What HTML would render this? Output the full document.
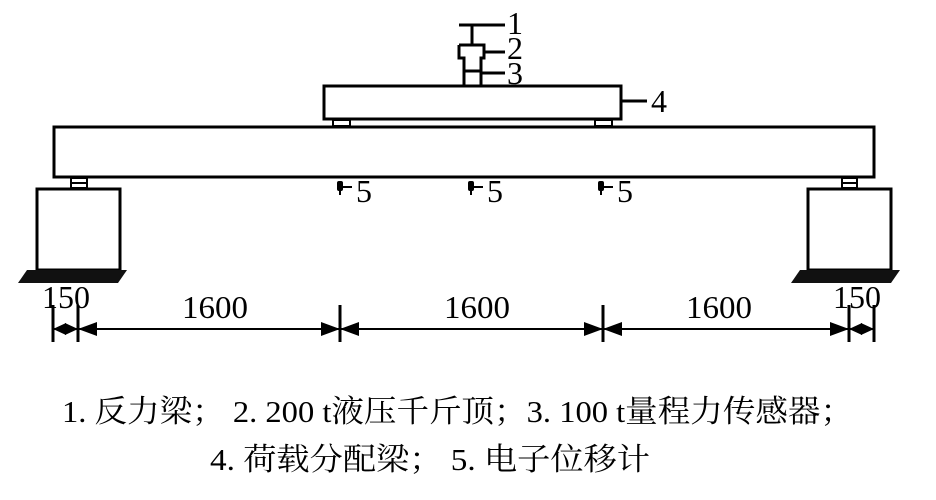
<!DOCTYPE html>
<html><head><meta charset="utf-8"><style>body{margin:0;background:#fff}svg{display:block}</style></head><body>
<svg width="936" height="500" viewBox="0 0 936 500" xmlns="http://www.w3.org/2000/svg">
<g fill="none" stroke="#000" stroke-width="3">
<rect x="54" y="127" width="820" height="50"/>
<rect x="324" y="86" width="297" height="33"/>
<rect x="37" y="189" width="83" height="81"/>
<rect x="808" y="189" width="83" height="81"/>
</g>
<g stroke="#000" stroke-width="2" fill="#fff">
<rect x="71" y="178" width="16" height="10"/>
<line x1="71" y1="183" x2="87" y2="183"/>
<rect x="842" y="178" width="15" height="10"/>
<line x1="842" y1="183" x2="857" y2="183"/>
<rect x="333" y="120" width="17" height="6"/>
<rect x="595" y="120" width="17" height="6"/>
</g>
<polygon points="27,270 127,270 118,283 18,283" fill="#111"/>
<polygon points="800,270 900,270 891,283 791,283" fill="#111"/>
<g stroke="#000" stroke-width="3" fill="none">
<line x1="459" y1="25" x2="505" y2="25"/>
<line x1="472" y1="25" x2="472" y2="44"/>
<path d="M459,45 H484 V58 H481 V86 M459,45 V58 H464 V86"/>
<line x1="464" y1="71" x2="481" y2="71"/>
<line x1="484" y1="52" x2="505" y2="52"/>
<line x1="481" y1="73" x2="505" y2="73"/>
<line x1="621" y1="101" x2="647" y2="101"/>
<line x1="340" y1="187" x2="352" y2="187" stroke-width="2"/>
<line x1="471" y1="187" x2="483" y2="187" stroke-width="2"/>
<line x1="601" y1="187" x2="613" y2="187" stroke-width="2"/>
</g>
<g fill="#000">
<rect x="337" y="181" width="6" height="10" rx="2"/><rect x="339" y="191" width="2" height="4"/>
<rect x="468" y="181" width="6" height="10" rx="2"/><rect x="470" y="191" width="2" height="4"/>
<rect x="598" y="181" width="6" height="10" rx="2"/><rect x="600" y="191" width="2" height="4"/>
</g>
<g stroke="#000" stroke-width="3">
<line x1="53" y1="305" x2="53" y2="342"/>
<line x1="78" y1="305" x2="78" y2="342"/>
<line x1="340" y1="305" x2="340" y2="342"/>
<line x1="603" y1="305" x2="603" y2="342"/>
<line x1="849" y1="305" x2="849" y2="342"/>
<line x1="874" y1="305" x2="874" y2="342"/>
<line x1="53" y1="329" x2="874" y2="329" stroke-width="2"/>
</g>
<g fill="#000">
<polygon points="53,329 66,323 66,335"/><polygon points="78,329 65,323 65,335"/>
<polygon points="78,329 97,322 97,336"/><polygon points="340,329 321,322 321,336"/>
<polygon points="340,329 359,322 359,336"/><polygon points="603,329 584,322 584,336"/>
<polygon points="603,329 622,322 622,336"/><polygon points="849,329 830,322 830,336"/>
<polygon points="849,329 862,323 862,335"/><polygon points="874,329 861,323 861,335"/>
</g>
<g font-family="Liberation Serif, serif" font-size="32" fill="#000">
<text x="507" y="34">1</text>
<text x="507" y="59">2</text>
<text x="507" y="84">3</text>
<text x="651" y="112">4</text>
<text x="356" y="202">5</text>
<text x="487" y="202">5</text>
<text x="617" y="202">5</text>
<text x="42" y="308" textLength="48" lengthAdjust="spacingAndGlyphs">150</text>
<text x="182" y="318" textLength="66" lengthAdjust="spacingAndGlyphs">1600</text>
<text x="444" y="318" textLength="66" lengthAdjust="spacingAndGlyphs">1600</text>
<text x="686" y="318" textLength="66" lengthAdjust="spacingAndGlyphs">1600</text>
<text x="833" y="308" textLength="48" lengthAdjust="spacingAndGlyphs">150</text>
</g>
<g font-family="Liberation Serif, 'Noto Serif CJK SC', serif" font-size="31" fill="#000">
<text x="62" y="422" textLength="791" lengthAdjust="spacingAndGlyphs">1. 反力梁； 2. 200 t液压千斤顶；3. 100 t量程力传感器；</text>
<text x="210" y="470" textLength="440" lengthAdjust="spacingAndGlyphs">4. 荷载分配梁； 5. 电子位移计</text>
</g>
</svg>
</body></html>
